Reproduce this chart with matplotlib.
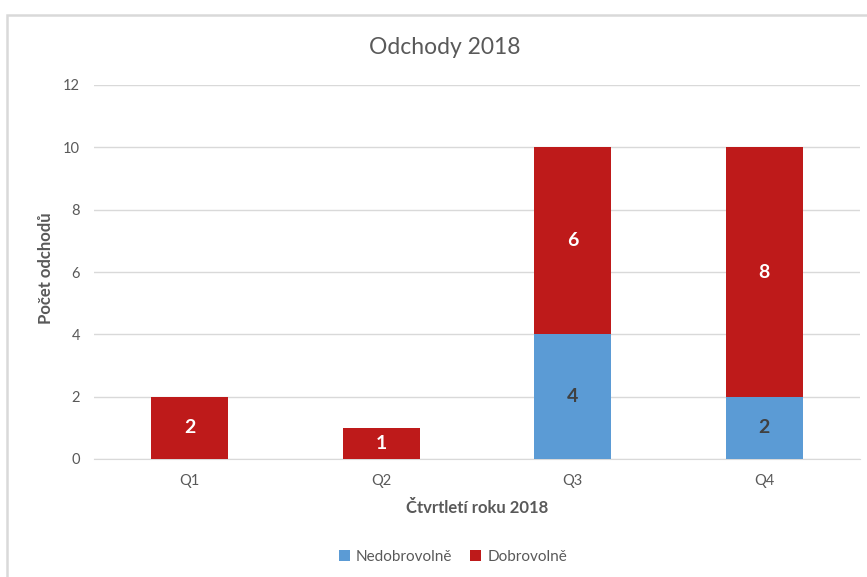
import matplotlib
matplotlib.use("Agg")
import matplotlib.pyplot as plt
from matplotlib.patches import Rectangle, Patch

categories = ["Q1", "Q2", "Q3", "Q4"]
nedobrovolne = [0, 0, 4, 2]
dobrovolne = [2, 1, 6, 8]
yticks = [0, 2, 4, 6, 8, 10, 12]

BLUE = "#5B9BD5"
RED = "#BE1A1A"
GRAY = "#595959"
GRID = "#D9D9D9"

plt.rcParams['font.family'] = ['Lato', 'DejaVu Sans']

fig = plt.figure(figsize=(8.67, 5.77), dpi=100)
fig.patches.append(Rectangle((7/867, -0.1), 1.2, 1 - 15/577 + 0.1, transform=fig.transFigure,
                             fill=False, edgecolor=GRID, linewidth=1.8, zorder=0))

ax = fig.add_axes([94/867, 1 - 459/577, 766/867, 374/577])
x = list(range(len(categories)))
w = 0.4
ax.bar(x, nedobrovolne, width=w, color=BLUE, label="Nedobrovolně", zorder=3)
ax.bar(x, dobrovolne, width=w, bottom=nedobrovolne, color=RED, label="Dobrovolně", zorder=3)

for i in x:
    if nedobrovolne[i] > 0:
        ax.text(i, nedobrovolne[i] / 2, str(nedobrovolne[i]), ha="center", va="center",
                color="#404040", fontsize=14, fontweight="bold", zorder=4)
    if dobrovolne[i] > 0:
        ax.text(i, nedobrovolne[i] + dobrovolne[i] / 2, str(dobrovolne[i]), ha="center", va="center",
                color="white", fontsize=14, fontweight="bold", zorder=4)

ax.set_xlim(-0.5, len(categories) - 0.5)
ax.set_ylim(0, 12)
ax.set_yticks(yticks)
ax.set_xticks(x)
ax.set_xticklabels(categories)
ax.grid(axis="y", color=GRID, linewidth=1, zorder=0)
for s in ["top", "right", "left"]:
    ax.spines[s].set_visible(False)
ax.spines["bottom"].set_color(GRID)
ax.tick_params(axis="both", length=0, colors=GRAY, labelsize=10.5)
ax.tick_params(axis="y", pad=10)
ax.tick_params(axis="x", pad=11)

fig.text(445/867, 1 - 47/577, "Odchody 2018", fontsize=16.5, color=GRAY, ha="center", va="center")
ax.set_xlabel("Čtvrtletí roku 2018", fontsize=12, fontweight="bold", color=GRAY, va="center")
ax.xaxis.set_label_coords((477 - 94) / 766, (459 - 508) / 374)
ax.set_ylabel("Počet odchodů", fontsize=12, fontweight="bold", color=GRAY, va="center")
ax.yaxis.set_label_coords((46 - 94) / 766, (459 - 268) / 374)

handles = [Patch(facecolor=BLUE), Patch(facecolor=RED)]
fig.legend(handles, ["Nedobrovolně", "Dobrovolně"], loc="center", bbox_to_anchor=(453/867, 1 - 557/577),
           ncol=2, frameon=False, fontsize=11, labelcolor=GRAY, handlelength=0.7, handleheight=0.7,
           handletextpad=0.4, columnspacing=1.2)

fig.savefig("out.png", dpi=100, facecolor="white")
